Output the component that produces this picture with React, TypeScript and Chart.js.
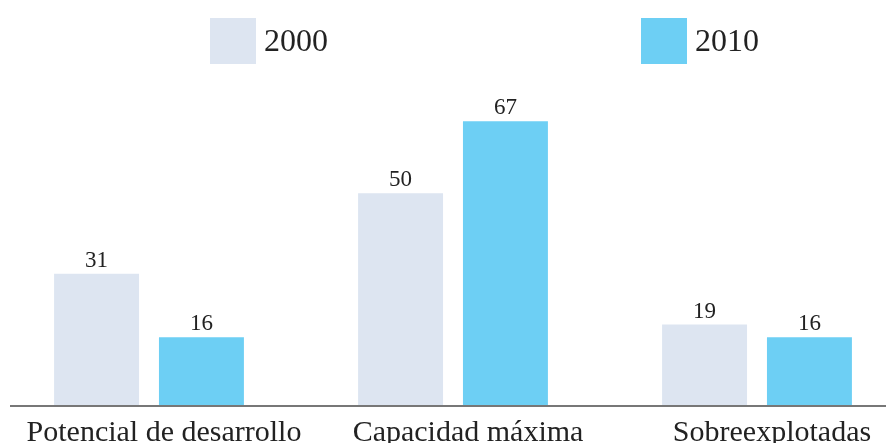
import React, { useEffect, useRef } from "react";
import { Chart, registerables } from "chart.js";

Chart.register(...registerables);

const categories = ["Potencial de desarrollo", "Capacidad máxima", "Sobreexplotadas"];
const seriesLabels = ["2000", "2010"];
const values2000 = [31, 50, 19];
const values2010 = [16, 67, 16];
const seriesColors = ["#dde5f1", "#6dcff4"];

const SERIF = "'Liberation Serif', 'Times New Roman', serif";

// Value printed above each bar
const barValuePlugin = {
  id: "barValues",
  afterDatasetsDraw(chart: any) {
    const ctx = chart.ctx;
    ctx.save();
    ctx.font = `23px ${SERIF}`;
    ctx.fillStyle = "#222";
    ctx.textAlign = "center";
    ctx.textBaseline = "alphabetic";
    chart.data.datasets.forEach((ds: any, i: number) => {
      const meta = chart.getDatasetMeta(i);
      meta.data.forEach((bar: any, j: number) => {
        ctx.fillText(String(ds.data[j]), bar.x, bar.y - 7);
      });
    });
    ctx.restore();
  },
};

// Grey baseline under the bars, starting slightly in from the left edge
const baselinePlugin = {
  id: "baseline",
  afterDatasetsDraw(chart: any) {
    const { ctx, chartArea } = chart;
    const y = chart.scales.y.getPixelForValue(0);
    ctx.save();
    ctx.strokeStyle = "#777";
    ctx.lineWidth = 2;
    ctx.beginPath();
    ctx.moveTo(chartArea.left + 13, y + 1);
    ctx.lineTo(chartArea.right, y + 1);
    ctx.stroke();
    ctx.restore();
  },
};

// Legend with large square swatches spread across the top
const wideLegendPlugin = {
  id: "wideLegend",
  afterDraw(chart: any) {
    const ctx = chart.ctx;
    const itemX = [213, 644];
    const box = 46;
    const top = 18;
    ctx.save();
    ctx.font = `32px ${SERIF}`;
    ctx.textBaseline = "middle";
    ctx.textAlign = "left";
    chart.data.datasets.forEach((ds: any, i: number) => {
      ctx.fillStyle = ds.backgroundColor;
      ctx.fillRect(itemX[i], top, box, box);
      ctx.fillStyle = "#222";
      ctx.fillText(ds.label, itemX[i] + box + 8, top + box / 2 + 2);
    });
    ctx.restore();
  },
};

export default function App() {
  const canvasRef = useRef<HTMLCanvasElement | null>(null);

  useEffect(() => {
    const canvas = canvasRef.current;
    if (!canvas) return;
    const chart = new Chart(canvas, {
      type: "bar",
      data: {
        labels: categories,
        datasets: [
          {
            label: seriesLabels[0],
            data: values2000,
            backgroundColor: seriesColors[0],
            categoryPercentage: 0.69,
            barPercentage: 0.81,
          },
          {
            label: seriesLabels[1],
            data: values2010,
            backgroundColor: seriesColors[1],
            categoryPercentage: 0.69,
            barPercentage: 0.81,
          },
        ],
      },
      options: {
        responsive: false,
        animation: false,
        layout: { padding: { top: 83, left: 0, right: 0, bottom: 0 } },
        plugins: {
          legend: { display: false },
          tooltip: { enabled: false },
        },
        scales: {
          x: {
            grid: { display: false, drawTicks: false },
            border: { display: false },
            ticks: {
              color: "#222",
              font: { family: SERIF, size: 30 },
              padding: 10,
              labelOffset: 15,
              maxRotation: 0,
              autoSkip: false,
            },
            afterFit(scale: any) {
              scale.height = 38;
            },
          },
          y: {
            display: false,
            min: 0,
            max: 76,
          },
        },
      },
      plugins: [barValuePlugin, baselinePlugin, wideLegendPlugin],
    });
    return () => chart.destroy();
  }, []);

  return (
    <div
      style={{
        position: "fixed",
        left: 0,
        top: 0,
        width: 886,
        height: 443,
        overflow: "hidden",
        background: "#fff",
      }}
    >
      <canvas
        ref={canvasRef}
        width={912}
        height={443}
        style={{ display: "block", marginLeft: -3 }}
      />
    </div>
  );
}
